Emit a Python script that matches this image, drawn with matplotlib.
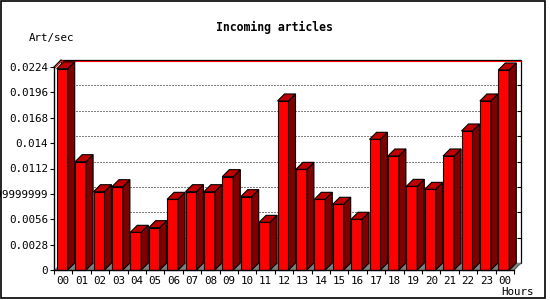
import matplotlib
matplotlib.use("Agg")
import matplotlib.pyplot as plt
from matplotlib.patches import Polygon, Rectangle
import matplotlib.transforms as mtrans

# ---- data ----
hours = ["00", "01", "02", "03", "04", "05", "06", "07", "08", "09", "10", "11",
         "12", "13", "14", "15", "16", "17", "18", "19", "20", "21", "22", "23", "00"]
art_per_sec = [0.0222, 0.01195, 0.00864, 0.00919, 0.00416, 0.00467, 0.0078, 0.00864,
               0.00864, 0.0103, 0.00809, 0.00526, 0.01865, 0.01111, 0.0078, 0.00725,
               0.0056, 0.01442, 0.01258, 0.00923, 0.0089, 0.01258, 0.01534, 0.01865,
               0.02207]
y_ticks = [0, 0.0028, 0.0056, 0.0084, 0.0112, 0.014, 0.0168, 0.0196, 0.0224]
y_tick_labels = ["0", "0.0028", "0.0056", "0.0083999999999", "0.0112", "0.014",
                 "0.0168", "0.0196", "0.0224"]
title = "Incoming articles"
y_title = "Art/sec"
x_title = "Hours"

FONT = "DejaVu Sans Mono"
plt.rcParams["font.family"] = FONT

W, H = 550, 300
fig = plt.figure(figsize=(W / 100, H / 100), dpi=100)
fig.patch.set_facecolor("white")

# front plane axes
ax_l, ax_b, ax_w, ax_h = 54, 30, 460, 203
ax = fig.add_axes([ax_l / W, ax_b / H, ax_w / W, ax_h / H])
n = len(art_per_sec)
ymax = y_ticks[-1]
ax.set_xlim(0, n)
ax.set_ylim(0, ymax)
ax.patch.set_alpha(0)

slot_px = ax_w / n
dx = 7 / slot_px
dy = 7 / ax_h * ymax
front_off = 2.7 / slot_px
front_w = 11 / slot_px

# back plane
ax.add_patch(Rectangle((dx, dy), n, ymax, facecolor="white", edgecolor="black",
                       lw=0.9, clip_on=False, zorder=0.2))
red_off = mtrans.offset_copy(ax.transData, fig=fig, x=0, y=-1.2, units="dots")
ax.plot([dx, n + dx], [ymax + dy, ymax + dy], color="#ff0000", lw=0.8,
        clip_on=False, zorder=0.3, transform=red_off)
red_off2 = mtrans.offset_copy(ax.transData, fig=fig, x=1.2, y=-0.6, units="dots")
ax.plot([0, dx], [ymax, ymax + dy], color="#ff0000", lw=0.8,
        clip_on=False, zorder=0.3, transform=red_off2)
# left wall edge
ax.plot([0, dx], [ymax, ymax + dy], color="black", lw=0.9, clip_on=False, zorder=0.3)
# grid lines on back plane
for t in y_ticks[1:-1]:
    ax.plot([dx, n + dx], [t + dy, t + dy], color="black", lw=0.72,
            ls=(0, (1, 2)), clip_on=False, zorder=0.3)
    ax.plot([n + dx - 0.15, n + dx], [t + dy, t + dy], color="black", lw=0.8,
            clip_on=False, zorder=0.3)

# floor
ax.add_patch(Polygon([(0, 0), (n, 0), (n + dx, dy), (dx, dy)], closed=True,
                     facecolor="#808080", edgecolor="none", clip_on=False, zorder=0.4))
ax.plot([n, n + dx], [0, dy], color="#606060", lw=0.8, clip_on=False, zorder=0.4)

# bars (front faces)
xs = [i + front_off for i in range(n)]
ax.bar(xs, art_per_sec, width=front_w, align="edge", color="#ff0000",
       edgecolor="black", lw=0.8, clip_on=False, zorder=2)
for xl, v in zip(xs, art_per_sec):
    xr = xl + front_w
    side = Polygon([(xr, 0), (xr + dx, dy), (xr + dx, v + dy), (xr, v)], closed=True,
                   facecolor="#800000", edgecolor="black", lw=0.8, clip_on=False, zorder=2)
    top = Polygon([(xl, v), (xl + dx, v + dy), (xr + dx, v + dy), (xr, v)], closed=True,
                  facecolor="#c00000", edgecolor="black", lw=0.8, clip_on=False, zorder=2)
    ax.add_patch(side)
    ax.add_patch(top)

# spines
for s in ["top", "right"]:
    ax.spines[s].set_visible(False)
for s in ["left", "bottom"]:
    ax.spines[s].set_linewidth(1.0)
    ax.spines[s].set_zorder(3)

ax.set_yticks(y_ticks)
ax.set_yticklabels(y_tick_labels)
ax.tick_params(axis="y", direction="out", length=3, width=0.8, pad=1.5,
               labelsize=7.8, colors="black")
ax.set_xticks(range(n + 1))
ax.set_xticklabels([])
ax.set_xticks([i + 0.5 for i in range(n)], minor=True)
ax.set_xticklabels(hours, minor=True)
ax.tick_params(axis="x", which="major", direction="out", length=3, width=0.8)
ax.tick_params(axis="x", which="minor", length=0, pad=4.5, labelsize=7.8)

# texts
fig.text(274 / W, 1 - 27 / H, title, ha="center", va="center", fontsize=8.3,
         fontweight="bold", family=FONT)
fig.text(29 / W, 1 - 37.5 / H, y_title, ha="left", va="center", fontsize=7.8, family=FONT)
fig.text(534 / W, 1 - 292 / H, x_title, ha="right", va="center", fontsize=7.8, family=FONT)

# outer border
fig.patches.append(Rectangle((0.8 / W, 2 / H), 544 / W, 297.2 / H, transform=fig.transFigure,
                             fill=False, edgecolor="black", lw=1.2, zorder=10))

fig.savefig("out.png", dpi=100, facecolor="white")
